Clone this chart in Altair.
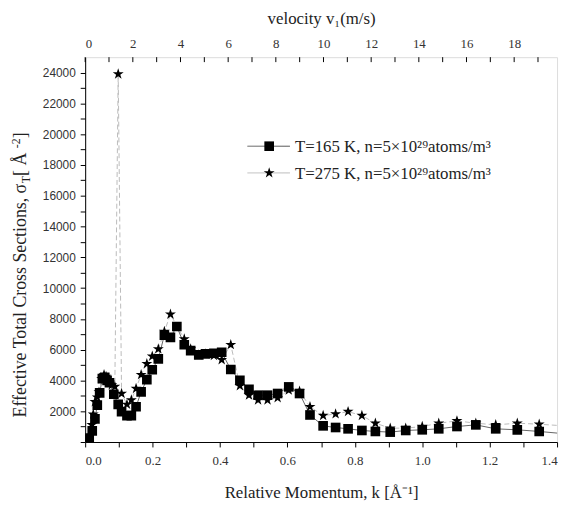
import altair as alt
import pandas as pd

# ---------------- data ----------------
k_165 = [0.008, 0.012, 0.021, 0.029, 0.036, 0.043, 0.051, 0.058, 0.065, 0.072,
         0.085, 0.098, 0.108, 0.124, 0.137, 0.151, 0.166, 0.183, 0.199, 0.217,
         0.235, 0.253, 0.272, 0.294, 0.313, 0.337, 0.357, 0.382, 0.405, 0.432,
         0.459, 0.486, 0.513, 0.541, 0.571, 0.604, 0.636, 0.667, 0.706, 0.743,
         0.780, 0.821, 0.861, 0.905, 0.951, 1.000, 1.049, 1.103, 1.159, 1.218,
         1.282, 1.347, 1.42]
sigma_165 = [150, 257, 727, 1500, 2400, 3195, 4115, 4200, 4000, 3850,
             3106, 2443, 1973, 1715, 1715, 2293, 3258, 4051, 4694, 5401,
             6944, 6796, 7503, 6321, 5935, 5658, 5723, 5768, 5832, 4713,
             4006, 3427, 3041, 3041, 3151, 3580, 3151, 1757, 1050, 943,
             857, 750, 686, 643, 750, 793, 857, 1007, 1114, 857,
             793, 686, 540]

k_275 = [0.008, 0.012, 0.020, 0.024, 0.029, 0.036, 0.041, 0.049, 0.056, 0.062,
         0.072, 0.079, 0.088, 0.098, 0.108, 0.124, 0.137, 0.151, 0.166, 0.183,
         0.199, 0.217, 0.235, 0.253, 0.294, 0.313, 0.337, 0.357, 0.382, 0.405,
         0.432, 0.459, 0.486, 0.513, 0.541, 0.571, 0.604, 0.636, 0.667, 0.706,
         0.743, 0.780, 0.821, 0.861, 0.905, 0.951, 1.000, 1.049, 1.103, 1.159,
         1.218, 1.282, 1.347, 1.42]
sigma_275 = [200, 364, 1114, 1800, 2615, 2900, 3240, 4100, 4372, 4250,
             3900, 3700, 3600, 23900, 3151, 2443, 2722, 3472, 4372, 5080,
             5573, 6044, 7180, 8295, 6687, 6044, 5658, 5723, 5615, 5337,
             6321, 3644, 3041, 2722, 2722, 2872, 3365, 3300, 2293, 1715,
             1822, 1973, 1715, 1222, 900, 900, 1007, 1222, 1372, 1222,
             1114, 1222, 1157, 1050]

x_ticks = [0.0, 0.1, 0.2, 0.3, 0.4, 0.5, 0.6, 0.7, 0.8, 0.9, 1.0, 1.1, 1.2, 1.3, 1.4]
y_ticks = [0, 1000, 2000, 3000, 4000, 5000, 6000, 7000, 8000, 9000, 10000, 11000,
           12000, 13000, 14000, 15000, 16000, 17000, 18000, 19000, 20000, 21000,
           22000, 23000, 24000]
v_ticks = [0, 1, 2, 3, 4, 5, 6, 7, 8, 9, 10, 11, 12, 13, 14, 15, 16, 17, 18, 19]
v_labels = [0, 2, 4, 6, 8, 10, 12, 14, 16, 18]
series_labels = ["T=165 K, n=5×10²⁹atoms/m³", "T=275 K, n=5×10²⁹atoms/m³"]

# ---------------- styling ----------------
W, H = 477, 389
SERIF = "Liberation Serif"
SANS = "Liberation Sans"
STAR = ("M0,-1L0.225,-0.309L0.951,-0.309L0.363,0.118L0.588,0.809L0,0.382"
        "L-0.588,0.809L-0.363,0.118L-0.951,-0.309L-0.225,-0.309Z")

df165 = pd.DataFrame({"k": k_165, "sigma": sigma_165})
df275 = pd.DataFrame({"k": k_275, "sigma": sigma_275})
dfv = pd.DataFrame({"v": v_ticks})
one = pd.DataFrame({"a": [0]})

x_enc = alt.X("k:Q",
              scale=alt.Scale(domain=[0, 1.4], nice=False, zero=False),
              axis=alt.Axis(values=x_ticks,
                            labelExpr="round(datum.value*10)%2==0 ? format(datum.value,'.1f') : ''",
                            title="Relative Momentum, k [Å⁻¹]",
                            titleFont=SERIF, titleFontSize=17, titleFontWeight="normal",
                            titleColor="#222", titlePadding=17,
                            labelFont=SERIF, labelFontSize=13, labelColor="#333",
                            labelPadding=8, tickSize=5, grid=False,
                            domainColor="black", tickColor="black"))
y_enc = alt.Y("sigma:Q",
              scale=alt.Scale(domain=[0, 25000], nice=False, zero=True),
              axis=alt.Axis(values=y_ticks,
                            labelExpr="datum.value>0 && datum.value%2000==0 ? format(datum.value,'d') : ''",
                            title=None, labelFont=SANS, labelFontSize=12,
                            labelColor="#333", labelPadding=5, tickSize=5,
                            grid=False, domainColor="black", tickColor="black"))

line165 = alt.Chart(df165).mark_line(color="#555", strokeWidth=0.9, clip=True).encode(x=x_enc, y=y_enc)
pts165 = alt.Chart(df165).mark_point(shape="square", filled=True, color="black",
                                     size=95, opacity=1, clip=True).encode(x=x_enc, y=y_enc)
line275 = alt.Chart(df275).mark_line(color="#bbb", strokeWidth=1, strokeDash=[5, 3],
                                     clip=True).encode(x=x_enc, y=y_enc)
pts275 = alt.Chart(df275).mark_point(shape=STAR, filled=True, color="black",
                                     size=135, opacity=1, clip=True).encode(x=x_enc, y=y_enc)

data_layer = alt.layer(line275, line165, pts275, pts165)

# top velocity axis with inward ticks
top_axis = alt.Chart(dfv).mark_rule(color="black", strokeWidth=1).encode(
    x=alt.X("v:Q", scale=alt.Scale(domain=[0, 19.8], nice=False, zero=False),
            axis=alt.Axis(orient="top", values=v_labels, ticks=False, tickSize=0,
                          domain=False, grid=False, format="d",
                          title="velocity v₁(m/s)", titleFont=SERIF, titleFontSize=17,
                          titleFontWeight="normal", titleColor="#222", titlePadding=10,
                          labelFont=SERIF, labelFontSize=13, labelColor="#333",
                          labelPadding=7)),
    y=alt.value(0), y2=alt.value(5))

# legend (drawn manually)
def legend_row(ypos, label, shape, size, line_color, dash):
    ln = alt.Chart(one).mark_rule(color=line_color, strokeWidth=1, strokeDash=dash).encode(
        x=alt.value(164), x2=alt.value(207), y=alt.value(ypos))
    sym = alt.Chart(one).mark_point(shape=shape, filled=True, color="black", size=size,
                                    opacity=1).encode(x=alt.value(186), y=alt.value(ypos))
    txt = alt.Chart(one).mark_text(text=label, align="left", baseline="middle", font=SERIF,
                                   fontSize=17, color="#222").encode(
        x=alt.value(212), y=alt.value(ypos + 1))
    return [ln, sym, txt]

legend = legend_row(90, series_labels[0], "square", 95, "#555", [1, 0]) + \
    legend_row(117, series_labels[1], STAR, 135, "#bbb", [1, 0])

# y-axis title with subscript / superscript pieces
def ytext(t, x, y, size, align):
    return alt.Chart(one).mark_text(text=t, angle=270, align=align, baseline="middle",
                                    font=SERIF, fontSize=size, color="#222").encode(
        x=alt.value(x), y=alt.value(y))

YX = -65
Y1 = 128
ytitle = [
    ytext("Effective Total Cross Sections, σ", YX, Y1, 18, "right"),
    ytext("T", YX + 5, Y1 - 0.5, 12, "left"),
    ytext(" [ Å", YX, Y1 - 8, 18, "left"),
    ytext("-2", YX - 5, Y1 - 36, 12, "left"),
    ytext("]", YX, Y1 - 46, 18, "left"),
]

chart = alt.layer(data_layer, top_axis, *legend, *ytitle).resolve_scale(
    x="independent"
).properties(
    width=W, height=H,
    padding={"left": 78, "top": 47, "right": 6, "bottom": 64},
    autosize=alt.AutoSizeParams(type="none"),
).configure_view(stroke="black", strokeWidth=1).configure(background="white")

chart.save("out.html", embed_options={"renderer": "svg", "actions": False})
